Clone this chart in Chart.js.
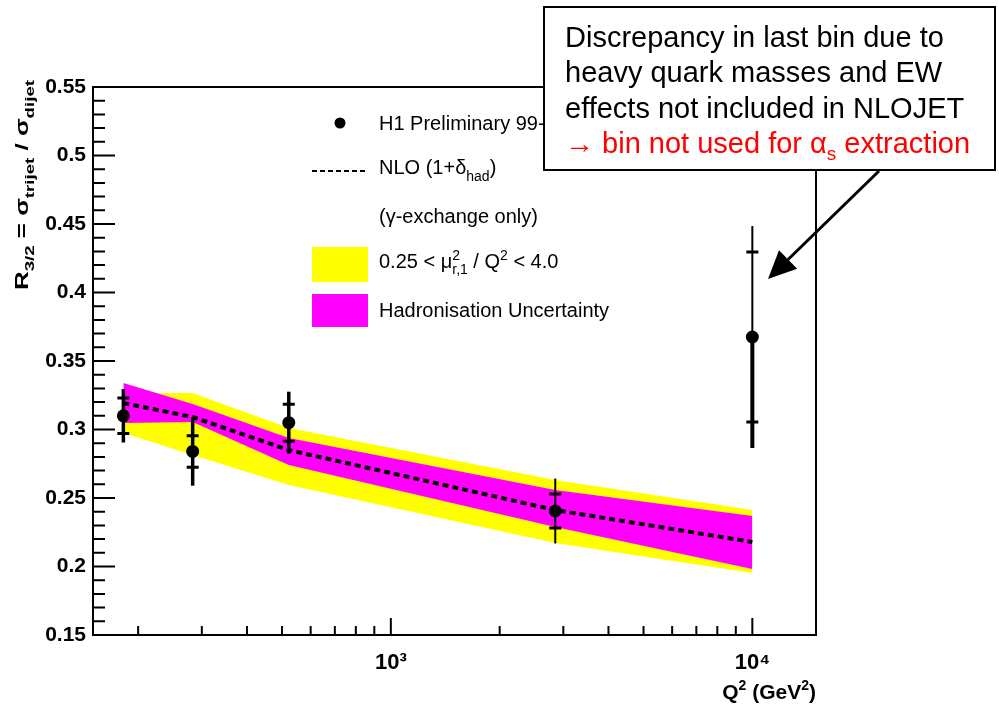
<!DOCTYPE html>
<html>
<head>
<meta charset="utf-8">
<script src="https://cdn.jsdelivr.net/npm/chart.js@4.4.1/dist/chart.umd.min.js"></script>
<style>
  html, body { margin: 0; padding: 0; background: #fff; }
  #wrap { width: 999px; height: 704px; }
</style>
</head>
<body>
<div id="wrap"><canvas id="ratioChart" width="999" height="704"></canvas></div>
<script>
// Q^2 bin positions (GeV^2) and measured R_3/2 with errors
const q2Bins = [182, 283, 522, 2850, 10000];
const r32 = [0.310, 0.284, 0.305, 0.2405, 0.3675];
const statErr = [0.013, 0.0115, 0.0135, 0.0124, 0.062];
const totErr = [0.0195, 0.025, 0.0226, 0.0237, 0.081];

// NLO (1+delta_had), gamma exchange only
const nloCentral = [0.3193, 0.3091, 0.2850, 0.2412, 0.2179];
// hadronisation uncertainty
const hadUp = [0.3339, 0.3186, 0.2938, 0.2558, 0.2369];
const hadDown = [0.3047, 0.3055, 0.2741, 0.2288, 0.1982];
// scale variation 0.25 < mu^2/Q^2 < 4
const scaleUp = [0.3266, 0.3266, 0.3011, 0.2631, 0.2412];
const scaleDown = [0.2974, 0.2814, 0.2595, 0.2172, 0.1953];

// axis ticks
const xTicks = [200, 300, 400, 500, 600, 700, 800, 900, 1000,
                2000, 3000, 4000, 5000, 6000, 7000, 8000, 9000, 10000];
const xTickLabels = { 1000: "10\u00b3", 10000: "10\u2074" };
const yTicks = [];
for (let i = 0; i <= 40; i++) yTicks.push(Math.round((0.15 + i * 0.01) * 100) / 100);
const yMajorLabels = ["0.15", "0.2", "0.25", "0.3", "0.35", "0.4", "0.45", "0.5", "0.55"];

const BOLD = "'Liberation Sans', Arial, Helvetica, sans-serif";
const isMajorY = v => Math.abs(v * 20 - Math.round(v * 20)) < 1e-6;

// bar widths per point (last bin has a thin upper half)
const barUpper = [3.5, 3.5, 3.5, 2, 2];
const barLower = [3.5, 3.5, 3.5, 2, 4];

const pts = arr => arr.map((v, i) => ({ x: q2Bins[i], y: v }));

// draw a run of text pieces with sub/superscripts, returns width
function drawRich(ctx, parts, x, y, measureOnly) {
    let cx = x;
    parts.forEach(p => {
        ctx.font = p.font;
        if (!measureOnly) ctx.fillText(p.t, cx, y + (p.dy || 0));
        if (!p.stack) cx += ctx.measureText(p.t).width;
    });
    return cx - x;
}

const axisFrame = {
    id: "axisFrame",
    afterDatasetsDraw(chart) {
        const { ctx, chartArea: a, scales: { x, y } } = chart;
        ctx.save();
        ctx.strokeStyle = "#000";
        ctx.lineWidth = 2;
        ctx.strokeRect(a.left, a.top, a.right - a.left, a.bottom - a.top);
        ctx.beginPath();
        x.ticks.forEach(t => {
            const px = x.getPixelForValue(t.value);
            const len = xTickLabels[t.value] ? 17 : 9;
            ctx.moveTo(px, a.bottom);
            ctx.lineTo(px, a.bottom - len);
        });
        y.ticks.forEach(t => {
            const py = y.getPixelForValue(t.value);
            const len = isMajorY(t.value) ? 22 : 12;
            ctx.moveTo(a.left, py);
            ctx.lineTo(a.left + len, py);
        });
        ctx.stroke();
        ctx.restore();
    }
};

const errorBars = {
    id: "errorBars",
    afterDatasetsDraw(chart) {
        const { ctx, scales: { x, y } } = chart;
        ctx.save();
        ctx.strokeStyle = "#000";
        ctx.lineCap = "butt";
        q2Bins.forEach((q, i) => {
            const px = x.getPixelForValue(q);
            const pc = y.getPixelForValue(r32[i]);
            ctx.lineWidth = barUpper[i];
            ctx.beginPath();
            ctx.moveTo(px, y.getPixelForValue(r32[i] + totErr[i]));
            ctx.lineTo(px, pc);
            ctx.stroke();
            ctx.lineWidth = barLower[i];
            ctx.beginPath();
            ctx.moveTo(px, pc);
            ctx.lineTo(px, y.getPixelForValue(r32[i] - totErr[i]));
            ctx.stroke();
            ctx.lineWidth = 3;
            ctx.beginPath();
            [1, -1].forEach(s => {
                const py = y.getPixelForValue(r32[i] + s * statErr[i]);
                ctx.moveTo(px - 6, py);
                ctx.lineTo(px + 6, py);
            });
            ctx.stroke();
        });
        ctx.restore();
    }
};

const decorations = {
    id: "decorations",
    afterDraw(chart) {
        const ctx = chart.ctx;
        ctx.save();
        ctx.fillStyle = "#000";
        ctx.textBaseline = "alphabetic";
        ctx.textAlign = "left";

        // legend
        const lsub = "14px 'Liberation Sans', Arial, sans-serif";
        const lreg = "20px 'Liberation Sans', Arial, sans-serif";
        ctx.beginPath();
        ctx.arc(340, 123, 5.5, 0, Math.PI * 2);
        ctx.fill();
        ctx.font = lreg;
        ctx.fillText("H1 Preliminary 99-00", 379, 130);

        ctx.save();
        ctx.strokeStyle = "#000";
        ctx.lineWidth = 2;
        ctx.setLineDash([5, 3]);
        ctx.beginPath();
        ctx.moveTo(312, 171);
        ctx.lineTo(368, 171);
        ctx.stroke();
        ctx.restore();
        drawRich(ctx, [
            { t: "NLO (1+\u03b4", font: lreg },
            { t: "had", font: lsub, dy: 7 },
            { t: ")", font: lreg }
        ], 379, 174);

        ctx.font = lreg;
        ctx.fillText("(\u03b3-exchange only)", 379, 223);

        ctx.fillStyle = "#ffff00";
        ctx.fillRect(312, 247, 56, 35);
        ctx.fillStyle = "#ff00ff";
        ctx.fillRect(312, 294, 56, 33);
        ctx.fillStyle = "#000";
        drawRich(ctx, [
            { t: "0.25 < \u03bc", font: lreg },
            { t: "2", font: lsub, dy: -8, stack: true },
            { t: "r,1", font: lsub, dy: 6 },
            { t: " / Q", font: lreg },
            { t: "2", font: lsub, dy: -8 },
            { t: " < 4.0", font: lreg }
        ], 379, 268);
        ctx.font = lreg;
        ctx.fillText("Hadronisation Uncertainty", 379, 317);

        // y axis title, rotated
        const yParts = [
            { t: "R", font: "bold 18px " + BOLD },
            { t: "3/2", font: "bold 13px " + BOLD, dy: 6 },
            { t: " = \u03c3", font: "bold 18px " + BOLD },
            { t: "trijet", font: "bold 13px " + BOLD, dy: 6 },
            { t: " / \u03c3", font: "bold 18px " + BOLD },
            { t: "dijet", font: "bold 13px " + BOLD, dy: 6 }
        ];
        const yw = drawRich(ctx, yParts, 0, 0, true);
        ctx.save();
        ctx.translate(28, 290);
        ctx.rotate(-Math.PI / 2);
        ctx.scale(210 / yw, 1);
        drawRich(ctx, yParts, 0, 0);
        ctx.restore();

        // x axis title, right aligned to the frame
        const xParts = [
            { t: "Q", font: "bold 21px " + BOLD },
            { t: "2", font: "bold 14px " + BOLD, dy: -9 },
            { t: " (GeV", font: "bold 21px " + BOLD },
            { t: "2", font: "bold 14px " + BOLD, dy: -9 },
            { t: ")", font: "bold 21px " + BOLD }
        ];
        const xw = drawRich(ctx, xParts, 0, 0, true);
        drawRich(ctx, xParts, chart.chartArea.right - xw, 699);

        // note box
        ctx.fillStyle = "#fff";
        ctx.fillRect(544, 7, 451, 163);
        ctx.strokeStyle = "#000";
        ctx.lineWidth = 2;
        ctx.strokeRect(544, 7, 451, 163);
        const nf = "29px Arial, 'Liberation Sans', sans-serif";
        ctx.fillStyle = "#000";
        ctx.font = nf;
        ctx.fillText("Discrepancy in last bin due to", 565, 47);
        ctx.fillText("heavy quark masses and EW", 565, 82);
        ctx.fillText("effects not included in NLOJET", 565, 118);
        ctx.fillStyle = "#ff0000";
        drawRich(ctx, [
            { t: "\u2192 bin not used for \u03b1", font: nf },
            { t: "s", font: "19px Arial, 'Liberation Sans', sans-serif", dy: 7 },
            { t: " extraction", font: nf }
        ], 565, 153);

        // arrow to the last bin
        const sx = 879, sy = 171, tx = 768, ty = 279;
        const len = Math.hypot(tx - sx, ty - sy);
        const ux = (tx - sx) / len, uy = (ty - sy) / len;
        const bx = tx - ux * 28, by = ty - uy * 28;
        ctx.strokeStyle = "#000";
        ctx.lineWidth = 3;
        ctx.beginPath();
        ctx.moveTo(sx, sy);
        ctx.lineTo(bx, by);
        ctx.stroke();
        ctx.fillStyle = "#000";
        ctx.beginPath();
        ctx.moveTo(tx, ty);
        ctx.lineTo(bx - uy * 13, by + ux * 13);
        ctx.lineTo(bx + uy * 13, by - ux * 13);
        ctx.closePath();
        ctx.fill();

        ctx.restore();
    }
};

const ctx = document.getElementById("ratioChart").getContext("2d");

new Chart(ctx, {
    type: "scatter",
    data: {
        datasets: [
            {
                label: "H1 Preliminary 99-00",
                data: pts(r32),
                pointRadius: 6.5,
                pointBorderWidth: 0,
                backgroundColor: "#000",
                borderColor: "#000"
            },
            {
                label: "NLO (1+delta_had)",
                type: "line",
                data: pts(nloCentral),
                borderColor: "#000",
                borderWidth: 4,
                borderDash: [6, 4],
                pointRadius: 0,
                fill: false
            },
            {
                label: "Hadronisation Uncertainty",
                type: "line",
                data: pts(hadUp),
                borderColor: "transparent",
                borderWidth: 0,
                backgroundColor: "#ff00ff",
                pointRadius: 0,
                fill: "+1"
            },
            {
                label: "had low",
                type: "line",
                data: pts(hadDown),
                borderColor: "transparent",
                borderWidth: 0,
                pointRadius: 0,
                fill: false
            },
            {
                label: "0.25 < mu^2/Q^2 < 4.0",
                type: "line",
                data: pts(scaleUp),
                borderColor: "transparent",
                borderWidth: 0,
                backgroundColor: "#ffff00",
                pointRadius: 0,
                fill: "+1"
            },
            {
                label: "scale low",
                type: "line",
                data: pts(scaleDown),
                borderColor: "transparent",
                borderWidth: 0,
                pointRadius: 0,
                fill: false
            }
        ]
    },
    options: {
        responsive: false,
        devicePixelRatio: 1,
        animation: false,
        layout: { padding: { left: 0, top: 87, right: 183, bottom: 0 } },
        plugins: {
            legend: { display: false },
            tooltip: { enabled: false }
        },
        scales: {
            x: {
                type: "logarithmic",
                min: 150,
                max: 15000,
                afterBuildTicks: s => { s.ticks = xTicks.map(v => ({ value: v })); },
                afterFit: s => { s.height = 69; },
                grid: { display: false, drawTicks: false },
                border: { display: false },
                ticks: {
                    autoSkip: false,
                    maxRotation: 0,
                    minRotation: 0,
                    padding: 15,
                    color: "#000",
                    font: { family: BOLD, size: 22, weight: "bold" },
                    callback: v => xTickLabels[v] || ""
                }
            },
            y: {
                min: 0.15,
                max: 0.55,
                afterBuildTicks: s => { s.ticks = yTicks.map(v => ({ value: v })); },
                afterFit: s => { s.width = 93; },
                grid: { display: false, drawTicks: false },
                border: { display: false },
                ticks: {
                    autoSkip: false,
                    padding: 7,
                    color: "#000",
                    font: { family: BOLD, size: 21, weight: "bold" },
                    callback: v => isMajorY(v) ? yMajorLabels[Math.round((v - 0.15) * 20)] : ""
                }
            }
        }
    },
    plugins: [errorBars, axisFrame, decorations]
});
</script>
</body>
</html>
